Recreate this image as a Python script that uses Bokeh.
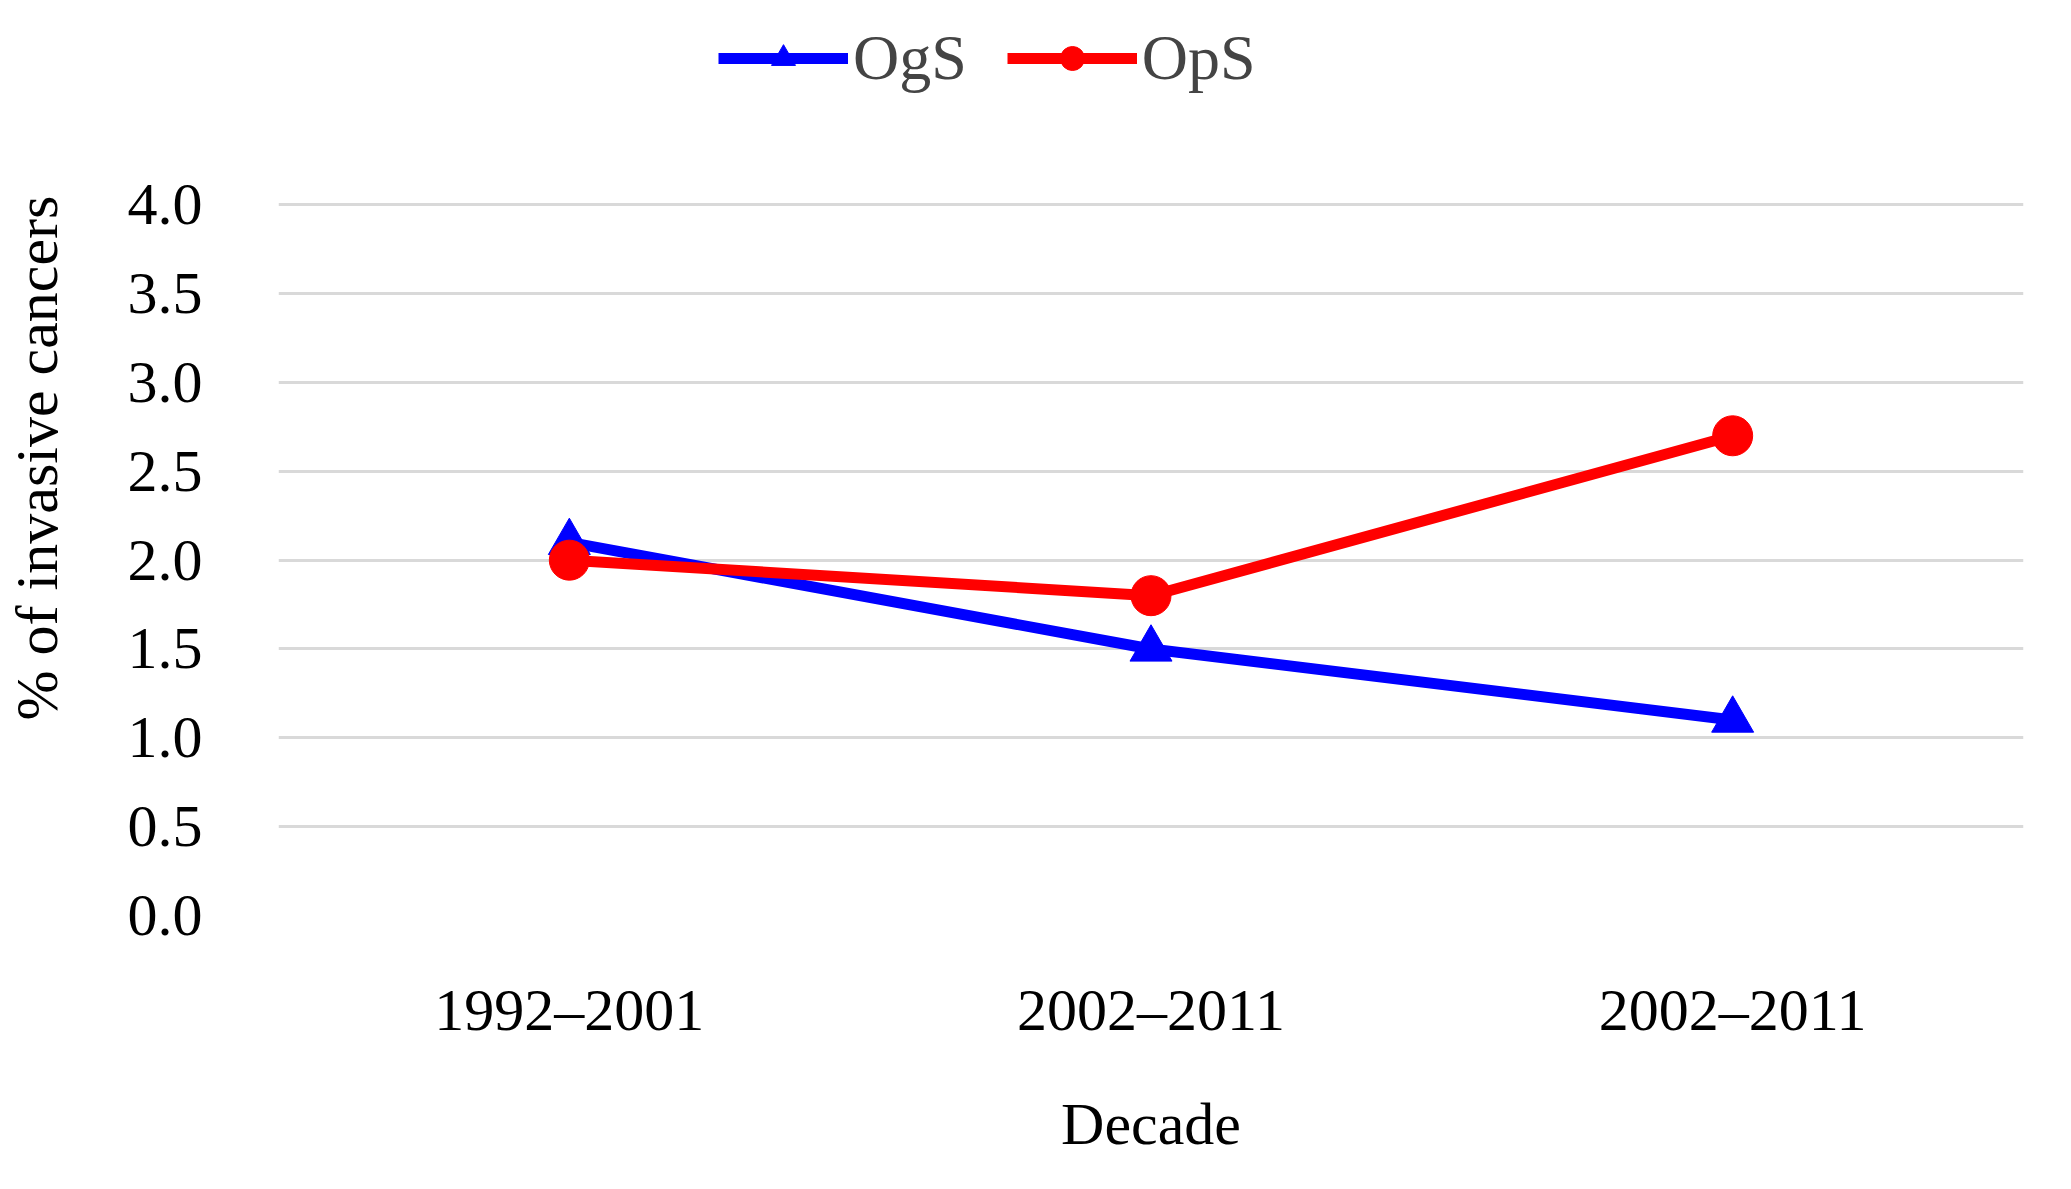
from bokeh.plotting import figure
from bokeh.models import Legend, LegendItem, FixedTicker, Range1d
from bokeh.embed import file_html
from bokeh.resources import INLINE

decades = ["1992–2001", "2002–2011", "2002–2011"]
ogs = [2.1, 1.5, 1.1]
ops = [2.0, 1.8, 2.7]
y_ticks = [0.0, 0.5, 1.0, 1.5, 2.0, 2.5, 3.0, 3.5, 4.0]

xs = [i + 0.5 for i in range(len(decades))]
FONT = "Liberation Serif"

p = figure(frame_width=1745, frame_height=915, output_backend="svg", toolbar_location=None,
           x_range=Range1d(0, 3), y_range=Range1d(0, 5.15),
           min_border_left=10, min_border_right=10, min_border_bottom=20, min_border_top=0)
p.outline_line_color = None
p.xgrid.grid_line_color = None
p.ygrid.grid_line_color = "#d9d9d9"
p.ygrid.grid_line_width = 3
p.yaxis.ticker = FixedTicker(ticks=y_ticks)
p.yaxis.major_label_overrides = {t: f"{t:.1f}" for t in y_ticks}
p.xaxis.ticker = FixedTicker(ticks=xs)
p.xaxis.major_label_overrides = {x: d for x, d in zip(xs, decades)}
for ax in (p.xaxis[0], p.yaxis[0]):
    ax.axis_line_color = None
    ax.major_tick_line_color = None
    ax.minor_tick_line_color = None
    ax.major_label_text_font = FONT
    ax.major_label_text_font_size = "60px"
    ax.major_label_text_color = "black"
    ax.axis_label_text_font = FONT
    ax.axis_label_text_font_size = "60px"
    ax.axis_label_text_font_style = "normal"
    ax.axis_label_text_color = "black"
p.xaxis.axis_label = "Decade"
p.yaxis.axis_label = "% of invasive cancers"
p.xaxis.major_label_standoff = 55
p.xaxis.axis_label_standoff = 45
p.yaxis.major_label_standoff = 70
p.yaxis.axis_label_standoff = 55

l1 = p.line(xs, ogs, line_color="#0000ff", line_width=11)
m1 = p.scatter(xs, ogs, marker="triangle", size=42, color="#0000ff")
l2 = p.line(xs, ops, line_color="#ff0000", line_width=11)
m2 = p.scatter(xs, ops, marker="circle", size=40, color="#ff0000")

leg = Legend(items=[LegendItem(label="OgS", renderers=[l1, m1]),
                    LegendItem(label="OpS", renderers=[l2, m2])],
             orientation="horizontal", location=(440, 820),
             label_text_font=FONT, label_text_font_size="64px",
             glyph_width=130, glyph_height=60, spacing=40,
             border_line_color=None, background_fill_alpha=0,
             margin=0, padding=0, label_standoff=5)
p.add_layout(leg, "center")

open("out.html", "w").write(file_html(p, INLINE))
